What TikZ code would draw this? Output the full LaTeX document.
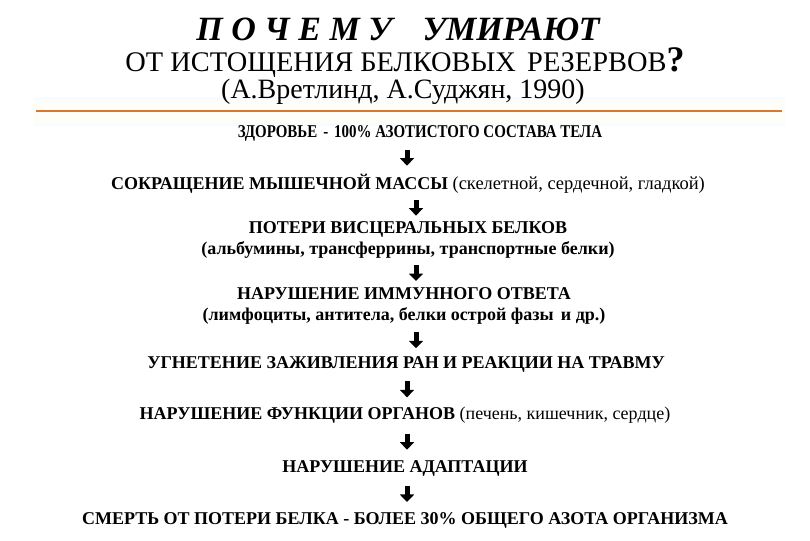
\documentclass[tikz,border=0pt]{standalone}
\usepackage{fontspec}
\usepackage{graphicx}
\setmainfont{Liberation Serif}
\usetikzlibrary{arrows.meta}
\definecolor{rule}{HTML}{D9772E}
\definecolor{band}{HTML}{FFFDF8}
\definecolor{bandblue}{HTML}{F8FCFE}
\begin{document}
\begin{tikzpicture}[x=1pt,y=-1pt,
  titlefont/.style={font=\fontsize{34}{36}\selectfont\bfseries\itshape, inner sep=0pt},
  subfont/.style={font=\fontsize{28.4}{30}\selectfont, inner sep=0pt},
  authfont/.style={font=\fontsize{28}{30}\selectfont, inner sep=0pt},
  body/.style={font=\fontsize{18}{21}\selectfont\bfseries, inner sep=0pt, align=center},
  flow/.style={line width=5pt, -{Triangle[width=14pt,length=7.5pt]}}]
\useasboundingbox (0,0) rectangle (810,540);
\fill[white] (0,0) rectangle (810,540);
% header
\fill[bandblue] (33,97) rectangle (785,126);
\fill[band] (33,100) rectangle (785,123);
\draw[rule, line width=2.2pt] (36,111) -- (782,111);
\node[titlefont] (t1) at (398,29) {П О Ч Е М У\hspace{0.9em}УМИРАЮТ};
\node[subfont] (t2) at (405,63) {ОТ ИСТОЩЕНИЯ БЕЛКОВЫХ\hspace{0.4em}РЕЗЕРВОВ{\fontsize{36}{36}\selectfont\bfseries ?}};
\node[authfont] (t3) at (403,92) {(А.Вретлинд, А.Суджян, 1990)};
% flow
\node[body] (n1) at (420,133) {\scalebox{0.83}[1]{ЗДОРОВЬЕ\hspace{0.4em}-\hspace{0.4em}100\% АЗОТИСТОГО СОСТАВА ТЕЛА}};
\node[body] (n2) at (408,184) {СОКРАЩЕНИЕ МЫШЕЧНОЙ МАССЫ {\mdseries\fontsize{18.5}{21}\selectfont(скелетной, сердечной, гладкой)}};
\node[body] (n3) at (408,240) {ПОТЕРИ ВИСЦЕРАЛЬНЫХ БЕЛКОВ\\(альбумины, трансферрины, транспортные белки)};
\node[body] (n4) at (404,306) {НАРУШЕНИЕ ИММУННОГО ОТВЕТА\\(лимфоциты, антитела, белки острой фазы\hspace{0.4em}и др.)};
\node[body] (n5) at (406,364) {УГНЕТЕНИЕ ЗАЖИВЛЕНИЯ РАН И РЕАКЦИИ НА ТРАВМУ};
\node[body] (n6) at (405,415) {НАРУШЕНИЕ ФУНКЦИИ ОРГАНОВ {\mdseries(печень, кишечник, сердце)}};
\node[body] (n7) at (405,468) {НАРУШЕНИЕ АДАПТАЦИИ};
\node[body] (n8) at (405,520) {СМЕРТЬ ОТ ПОТЕРИ БЕЛКА - БОЛЕЕ 30\% ОБЩЕГО АЗОТА ОРГАНИЗМА};
\coordinate (axa) at (407,0);
\coordinate (axb) at (416,0);
\foreach \a/\b/\ax in {n1/n2/axa, n2/n3/axb, n3/n4/axb, n4/n5/axb, n5/n6/axa, n6/n7/axa, n7/n8/axa}{
  \path (\a.south -| \ax) -- (\b.north -| \ax) coordinate[pos=0.5] (m);
  \draw[flow] ([yshift=8pt]m) -- ([yshift=-8pt]m);
}
\end{tikzpicture}
\end{document}
